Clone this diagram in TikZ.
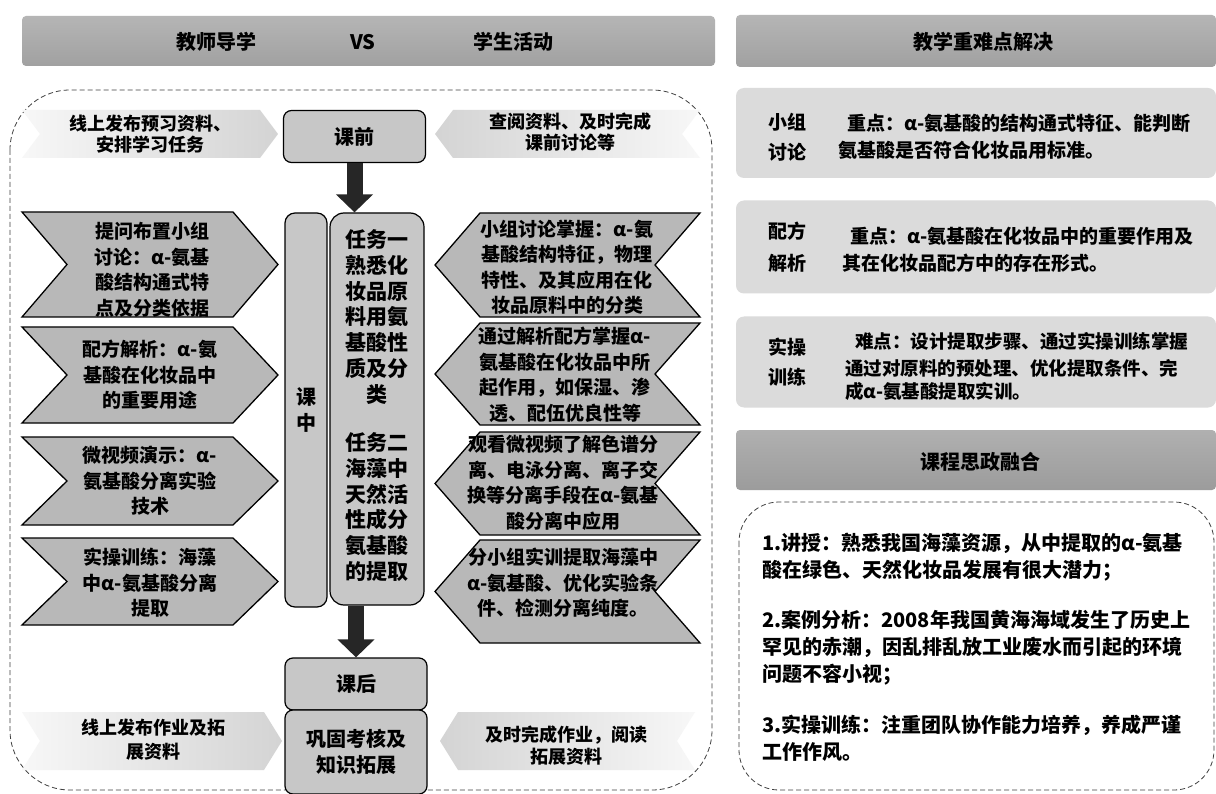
\documentclass[tikz,border=0pt]{standalone}
\usepackage{fontspec}
\setmainfont{Noto Sans CJK SC}
\usetikzlibrary{arrows.meta}
\newcommand{\rchevron}[5]{(#1,#3) -- ({#2-#5},#3) -- (#2,{(#3+#4)/2}) -- ({#2-#5},#4) -- (#1,#4) -- ({#1+#5},{(#3+#4)/2}) -- cycle}
\newcommand{\lchevron}[5]{({#1+#5},#3) -- (#2,#3) -- ({#2-#5},{(#3+#4)/2}) -- (#2,#4) -- ({#1+#5},#4) -- (#1,{(#3+#4)/2}) -- cycle}
\begin{document}
\begin{tikzpicture}[x=1pt,y=-1pt,
  hdr/.style={top color=gray!58, bottom color=gray!74, rounded corners=4pt, inner sep=0pt},
  dchev/.style={draw=black, line width=1.3pt, fill=gray!56, line join=miter},
  palel/.style={left color=gray!6, right color=gray!34},
  paler/.style={left color=gray!34, right color=gray!6},
  graybox/.style={draw=black, line width=1.2pt, fill=gray!44, rounded corners=8pt, inner sep=0pt, align=center, font=\bfseries\fontsize{20}{26}\selectfont},
  lbox/.style={fill=gray!28, rounded corners=8pt, inner sep=0pt},
  txt/.style={align=center, inner sep=0pt, font=\bfseries\fontsize{19}{25.5}\selectfont},
  ptxt/.style={align=center, inner sep=0pt, font=\bfseries\fontsize{18}{21}\selectfont},
  rtxt/.style={align=left, inner sep=0pt, anchor=west, font=\bfseries\fontsize{19}{27}\selectfont},
  htxt/.style={inner sep=0pt, font=\bfseries\fontsize{20}{24}\selectfont},
  bigarrow/.style={line width=16pt, draw=gray!30!black, -{Triangle[width=36pt,length=18pt]}},
  dbox/.style={draw=gray!50!black, dashed, dash pattern=on 5pt off 3pt, line width=0.8pt}
]
\useasboundingbox (0,0) rectangle (1216,794);
\fill[white] (0,0) rectangle (1216,794);

% ---------- left header ----------
\node[hdr, minimum width=693pt, minimum height=50pt] (h1) at (368.5,41) {};
\node[htxt] (h1a) at (216,42) {教师导学};
\node[htxt] (h1b) at (363,42) {VS};
\node[htxt] (h1c) at (513,42) {学生活动};

% ---------- left dashed frame ----------
\draw[dbox, rounded corners=60pt] (10,90) rectangle (712,790);

% ---------- pale arrows ----------
\path[palel] \rchevron{22}{278}{110}{158}{18};
\path[paler] \lchevron{435}{700}{110}{158}{18};
\path[palel] \rchevron{22}{282}{712}{770}{18};
\path[paler] \lchevron{440}{695}{712}{770}{18};
\node[ptxt] (p1) at (150,134) {线上发布预习资料、\\安排学习任务};
\node[ptxt] (p2) at (570,132) {查阅资料、及时完成\\课前讨论等};
\node[ptxt, font=\bfseries\fontsize{18}{24}\selectfont] (p3) at (153,740) {线上发布作业及拓\\展资料};
\node[ptxt, font=\bfseries\fontsize{18}{22}\selectfont] (p4) at (566,746) {及时完成作业，阅读\\拓展资料};

% ---------- left dark chevrons ----------
\draw[dchev] \rchevron{22}{278}{212}{317}{45};
\draw[dchev] \rchevron{22}{278}{327}{423}{45};
\draw[dchev] \rchevron{22}{278}{437}{525}{45};
\draw[dchev] \rchevron{22}{278}{538}{625}{45};
\node[txt] (l1) at (152,270) {提问布置小组\\讨论：α-氨基\\酸结构通式特\\点及分类依据};
\node[txt] (l2) at (150,375) {配方解析：α-氨\\基酸在化妆品中\\的重要用途};
\node[txt] (l3) at (150,481) {微视频演示：α-\\氨基酸分离实验\\技术};
\node[txt] (l4) at (150,583) {实操训练：海藻\\中α-氨基酸分离\\提取};

% ---------- right dark chevrons ----------
\draw[dchev] \lchevron{435}{700}{213}{317}{45};
\draw[dchev] \lchevron{435}{700}{323}{425}{45};
\draw[dchev] \lchevron{435}{700}{432}{535}{45};
\draw[dchev] \lchevron{435}{700}{540}{643}{45};
\node[txt] (r1) at (567,267) {小组讨论掌握：α-氨\\基酸结构特征，物理\\特性、及其应用在化\\妆品原料中的分类};
\node[txt] (r2) at (565,375) {通过解析配方掌握α-\\氨基酸在化妆品中所\\起作用，如保湿、渗\\透、配伍优良性等};
\node[txt] (r3) at (563,483) {观看微视频了解色谱分\\离、电泳分离、离子交\\换等分离手段在α-氨基\\酸分离中应用};
\node[txt] (r4) at (563,583) {分小组实训提取海藻中\\α-氨基酸、优化实验条\\件、检测分离纯度。};

% ---------- centre column ----------
\node[graybox, minimum width=142pt, minimum height=52pt] (kq) at (354.5,136.5) {课前};
\node[graybox, minimum width=42pt, minimum height=394pt, rounded corners=10pt] (kz) at (306,410) {课\\中};
\node[graybox, minimum width=94pt, minimum height=392pt, rounded corners=14pt] (task) at (377,409) {};
\node[txt, font=\bfseries\fontsize{21}{25.8}\selectfont] (t1) at (377,317) {任务一\\熟悉化\\妆品原\\料用氨\\基酸性\\质及分\\类};
\node[txt, font=\bfseries\fontsize{21}{25.8}\selectfont] (t2) at (377,507) {任务二\\海藻中\\天然活\\性成分\\氨基酸\\的提取};
\node[graybox, minimum width=142pt, minimum height=52pt] (kh) at (356,684) {课后};
\node[graybox, minimum width=142pt, minimum height=84pt] (gg) at (356,752) {巩固考核及\\知识拓展};

\draw[bigarrow] (kq.south) -- (kq.south |- task.north);
\draw[bigarrow] (kh.north |- task.south) -- (kh.north);

% ---------- right panel ----------
\node[hdr, minimum width=480pt, minimum height=52pt] (h2) at (976,41) {};
\node[htxt] (h2t) at (983,42) {教学重难点解决};

\node[lbox, minimum width=480pt, minimum height=90pt] (b1) at (976,133) {};
\node[lbox, minimum width=480pt, minimum height=93pt] (b2) at (976,247) {};
\node[lbox, minimum width=480pt, minimum height=91pt] (b3) at (976,362) {};

\node[rtxt, font=\bfseries\fontsize{19}{30}\selectfont] (b1l) at (768,137) {小组\\讨论};
\node[rtxt] (b1t) at (838,137) {\hspace*{9pt}重点：α-氨基酸的结构通式特征、能判断\\氨基酸是否符合化妆品用标准。};
\node[rtxt, font=\bfseries\fontsize{19}{32}\selectfont] (b2l) at (768,247) {配方\\解析};
\node[rtxt] (b2t) at (842,250) {\hspace*{8pt}重点：α-氨基酸在化妆品中的重要作用及\\其在化妆品配方中的存在形式。};
\node[rtxt, font=\bfseries\fontsize{19}{30}\selectfont] (b3l) at (768,362) {实操\\训练};
\node[rtxt, font=\bfseries\fontsize{18.5}{23}\selectfont] (b3t) at (845,366) {\hspace*{10pt}难点：设计提取步骤、通过实操训练掌握\\[4pt]通过对原料的预处理、优化提取条件、完\\成α-氨基酸提取实训。};

\node[hdr, top color=gray!62, bottom color=gray!78, minimum width=480pt, minimum height=60pt] (h3) at (976,460) {};
\node[htxt] (h3t) at (980,462) {课程思政融合};

\draw[dbox, rounded corners=40pt] (739,502) rectangle (1214,790);
\node[rtxt, font=\bfseries\fontsize{20}{27}\selectfont] (s1) at (762,557) {1.讲授：熟悉我国海藻资源，从中提取的α-氨基\\酸在绿色、天然化妆品发展有很大潜力；};
\node[rtxt, font=\bfseries\fontsize{20}{27}\selectfont] (s2) at (762,648) {2.案例分析：2008年我国黄海海域发生了历史上\\罕见的赤潮，因乱排乱放工业废水而引起的环境\\问题不容小视；};
\node[rtxt, font=\bfseries\fontsize{20}{27}\selectfont] (s3) at (762,738) {3.实操训练：注重团队协作能力培养，养成严谨\\工作作风。};
\end{tikzpicture}
\end{document}
